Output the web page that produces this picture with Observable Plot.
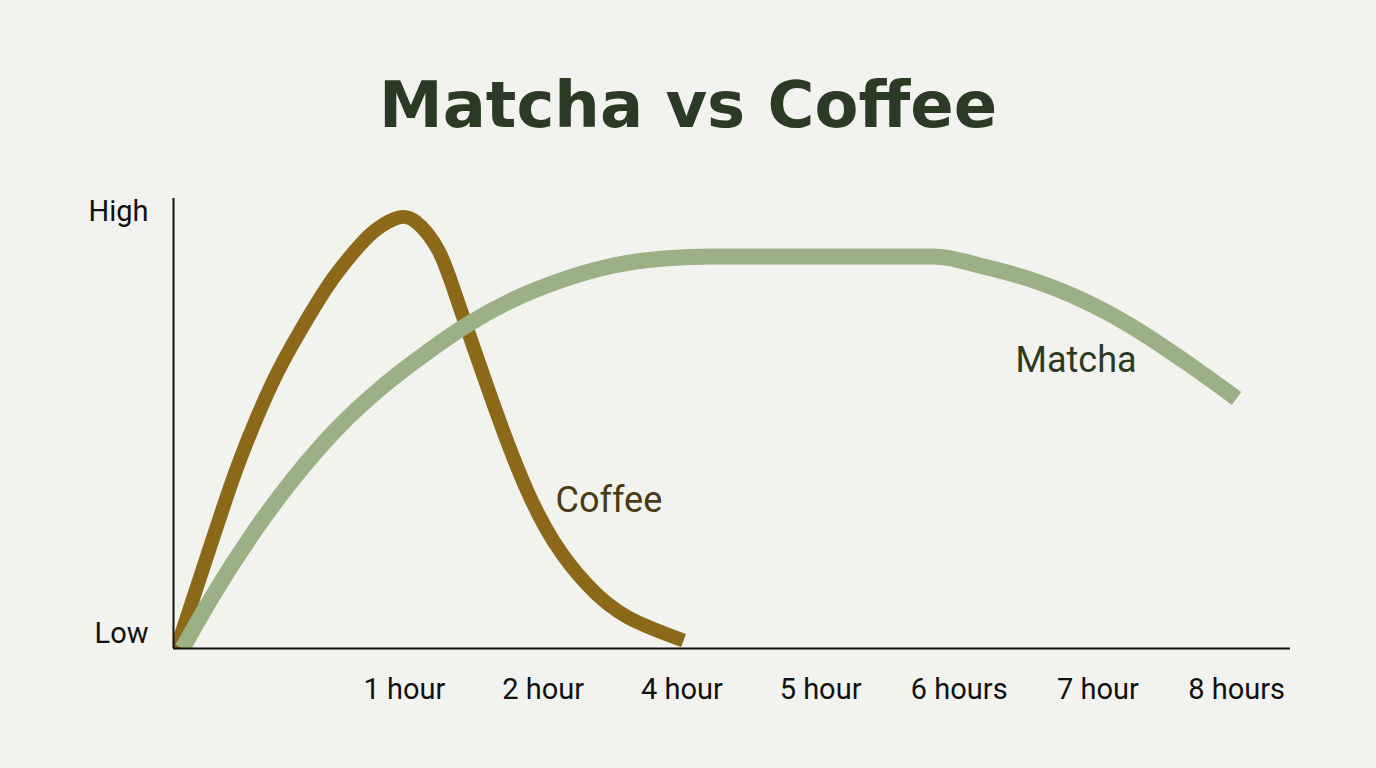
<!DOCTYPE html>
<html>
<head>
<meta charset="utf-8">
<script src="https://cdn.jsdelivr.net/npm/d3@7"></script>
<script src="https://cdn.jsdelivr.net/npm/@observablehq/plot@0.6"></script>
<style>
  html, body { margin: 0; padding: 0; background: #f2f3ee; width: 1376px; height: 768px; overflow: hidden; }
  #title { position: absolute; top: 73px; left: 0; width: 1376px; text-align: center; margin: 0;
           font-family: "DejaVu Sans", sans-serif; font-weight: bold; font-size: 64px; line-height: 64px; color: #2b3a24; }
  #chart { position: absolute; top: 170px; left: 0; }
</style>
</head>
<body>
<h1 id="title">Matcha vs Coffee</h1>
<div id="chart"></div>
<script>
// x is measured in label slots: slot k sits under the k-th tick label
const xTickSlots = [1, 2, 3, 4, 5, 6, 7];
const xTickLabels = ["1 hour", "2 hour", "4 hour", "5 hour", "6 hours", "7 hour", "8 hours"];
const yTickValues = [3.2, 97];
const yTickLabels = ["Low", "High"];
const xDomain = [-0.666, 7.389];
const yDomain = [0, 100];

const coffeeX = [-0.644, -0.522, -0.406, -0.291, -0.161, 0.048, 0.250, 0.459, 0.632, 0.769, 0.935, 1.079, 1.245, 1.382, 1.599, 1.743, 1.887, 2.074, 2.320, 2.608, 3.012];
const coffeeY = [0, 11.33, 22.22, 32.89, 44.0, 59.11, 70.67, 81.11, 88.0, 92.44, 95.56, 94.89, 88.44, 77.33, 58.0, 45.78, 34.89, 23.91, 14.09, 6.98, 1.78];

const matchaX = [-0.601, -0.399, -0.089, 0.200, 0.517, 0.827, 1.166, 1.440, 1.786, 2.147, 2.507, 2.868, 3.228, 4.815, 5.175, 5.536, 5.896, 6.257, 6.618, 7.000];
const matchaY = [0, 10.89, 25.78, 37.78, 48.98, 57.84, 65.9, 71.69, 77.56, 82.0, 85.11, 86.67, 87.11, 87.11, 84.89, 81.78, 77.33, 71.33, 64.0, 55.56];

const seriesLabels = ["Coffee", "Matcha"];
const seriesLabelX = [2.089, 5.406];
const seriesLabelY = [32.8, 63.9];

const coffee = coffeeX.map((x, i) => ({x, y: coffeeY[i]}));
const matcha = matchaX.map((x, i) => ({x, y: matchaY[i]}));
const labels = seriesLabels.map((name, i) => ({name, x: seriesLabelX[i], y: seriesLabelY[i]}));

const chart = Plot.plot({
  width: 1376,
  height: 598,
  marginLeft: 173,
  marginRight: 86,
  marginTop: 28,
  marginBottom: 120,
  style: { background: "transparent", fontFamily: "Roboto, sans-serif", color: "#111" },
  x: { domain: xDomain },
  y: { domain: yDomain },
  marks: [
    Plot.line(coffee, {x: "x", y: "y", stroke: "#8b6918", strokeWidth: 14, curve: "natural", strokeLinecap: "butt", strokeLinejoin: "round", clip: true}),
    Plot.line(matcha, {x: "x", y: "y", stroke: "#9bb085", strokeWidth: 16, curve: "monotone-x", strokeLinecap: "butt", strokeLinejoin: "round", clip: true}),
    Plot.ruleX([xDomain[0]], {y1: yDomain[0], y2: yDomain[1], stroke: "#111", strokeWidth: 2}),
    Plot.ruleY([yDomain[0]], {x1: xDomain[0], x2: xDomain[1], stroke: "#111", strokeWidth: 2}),
    Plot.axisX(xTickSlots, {tickSize: 0, tickPadding: 30, fontSize: 29, tickFormat: (d, i) => xTickLabels[i], label: null, fill: "#111"}),
    Plot.axisY(yTickValues, {tickSize: 0, tickPadding: 25, fontSize: 29, tickFormat: (d, i) => yTickLabels[i], label: null, fill: "#111"}),
    Plot.text(labels, {x: "x", y: "y", text: "name", textAnchor: "start", fontSize: 36,
      fill: d => d.name === "Coffee" ? "#4a3a15" : "#2c3a24"})
  ]
});
document.getElementById("chart").appendChild(chart);
</script>
</body>
</html>
